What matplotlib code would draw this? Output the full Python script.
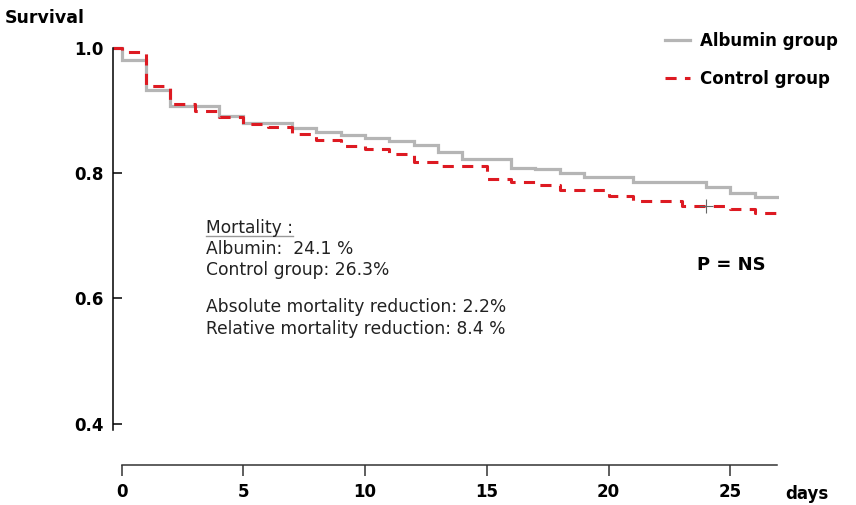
import numpy as np
import matplotlib
matplotlib.use('Agg')
import matplotlib.pyplot as plt
from matplotlib.lines import Line2D

# Kaplan-Meier steps (day of event, survival after it)
days_albumin = [0, 1, 2, 4, 5, 7, 8, 9, 10, 11, 12, 13, 14, 16, 17, 18, 19, 21, 24, 25, 26, 27]
surv_albumin = [0.981, 0.933, 0.907, 0.891, 0.880, 0.872, 0.866, 0.861, 0.857, 0.851, 0.845,
                0.834, 0.823, 0.808, 0.806, 0.801, 0.794, 0.786, 0.778, 0.769, 0.762, 0.762]

days_control = [0, 1, 2, 3, 4, 5, 6, 7, 8, 9, 10, 11, 12, 13, 15, 16, 17, 18, 20, 21, 23, 25, 26, 27]
surv_control = [0.993, 0.939, 0.911, 0.900, 0.890, 0.879, 0.873, 0.863, 0.853, 0.844, 0.838, 0.831,
                0.818, 0.811, 0.790, 0.786, 0.781, 0.773, 0.764, 0.755, 0.747, 0.743, 0.737, 0.737]
censor_days_control = [24]

group_labels = ['Albumin group', 'Control group']
y_ticks = [0.4, 0.6, 0.8, 1.0]
x_ticks = [0, 5, 10, 15, 20, 25]

notes = ['Mortality :', 'Albumin:  24.1 %', 'Control group: 26.3%',
         'Absolute mortality reduction: 2.2%', 'Relative mortality reduction: 8.4 %']
p_text = 'P = NS'

GRAY = '#b5b5b5'
RED = '#dd1a22'

W, H = 856, 505
def px(x, y):
    # pixel position -> figure fraction
    return x / W, 1 - y / H

plt.rcParams['lines.scale_dashes'] = False
fig = plt.figure(figsize=(8.56, 5.05), dpi=100)
ax = fig.add_axes([113 / W, 1 - 465 / H, (779 - 113) / W, (465 - 41.7) / H])

x0 = -0.35  # curves start at the y axis, a little left of day 0
ax.set_xlim(x0, 27)
ax.set_ylim(0.334, 1.01)

line_a, = ax.plot([x0] + days_albumin, [1.0] + surv_albumin, drawstyle='steps-post',
                  color=GRAY, lw=2.3, solid_joinstyle='miter')
line_c, = ax.plot([x0] + days_control, [1.0] + surv_control, drawstyle='steps-post',
                  color=RED, lw=2.2, dashes=(8, 6))
censor_vals = [surv_control[np.searchsorted(days_control, d, side='right') - 1] for d in censor_days_control]
ax.plot(censor_days_control, censor_vals, '+', color='#666666', ms=10, mew=0.8)

for s in ['top', 'right']:
    ax.spines[s].set_visible(False)
ax.spines['left'].set_bounds(0.39, 1.0)
ax.spines['bottom'].set_bounds(0, 26.9)
ax.spines['left'].set_linewidth(1.1)
ax.spines['bottom'].set_linewidth(1.1)
ax.spines['bottom'].set_color('#333333')

ax.set_yticks(y_ticks)
ax.set_yticklabels(['%.1f' % v for v in y_ticks])
ax.set_xticks(x_ticks)
ax.set_xticklabels([str(v) for v in x_ticks])
ax.tick_params(axis='y', direction='in', length=6.5, width=1.1, pad=7, labelsize=12)
ax.tick_params(axis='x', direction='out', length=8, width=1.1, pad=5, labelsize=12, color='#333333')
for lbl in ax.get_xticklabels() + ax.get_yticklabels():
    lbl.set_fontweight('bold')

ax.legend([line_a, line_c], group_labels, loc='upper left', bbox_to_anchor=px(665, 32),
          bbox_transform=fig.transFigure, frameon=False, prop={'weight': 'bold', 'size': 12},
          handlelength=1.5, handletextpad=0.6, labelspacing=1.22, borderpad=0, borderaxespad=0)

fig.text(*px(5, 18), 'Survival', fontsize=12.5, fontweight='bold', va='center', ha='left')
fig.text(*px(785, 494), 'days', fontsize=12, fontweight='bold', va='center', ha='left')
fig.text(*px(697, 265), p_text, fontsize=13, fontweight='bold', va='center', ha='left')

note_y = [228, 249, 270, 307, 329]
note_objs = []
for txt, yy in zip(notes, note_y):
    note_objs.append(fig.text(*px(206, yy), txt, fontsize=12.3, color='#222222', va='center', ha='left'))

# underline "Mortality :"
fig.canvas.draw()
bb = note_objs[0].get_window_extent()
uy = 1 - 236 / H
fig.add_artist(Line2D([bb.x0 / W, bb.x1 / W], [uy, uy], transform=fig.transFigure,
                      color='#999999', lw=1))

fig.savefig('out.png', dpi=100)
